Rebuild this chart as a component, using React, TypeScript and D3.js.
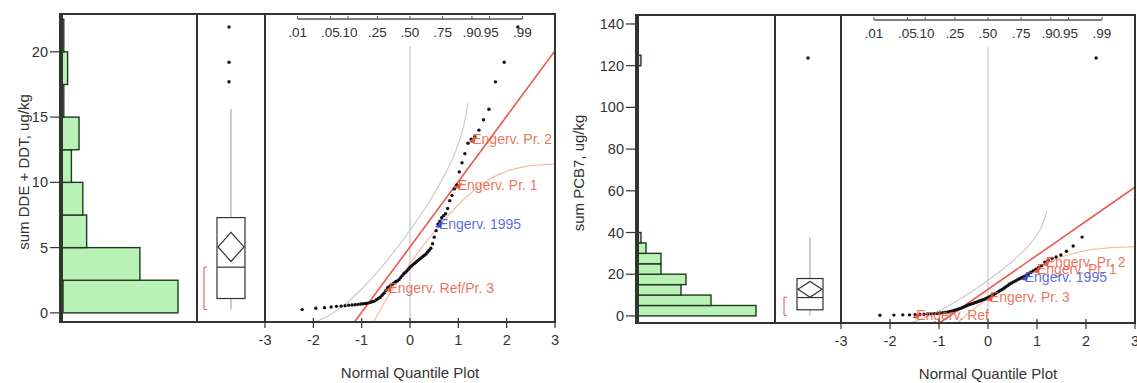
import React from 'react';
import * as d3 from 'd3';

// sum DDE + DDT, ug/kg (sorted)
const ddtValues = [
  0.25, 0.35, 0.4, 0.45, 0.5, 0.52, 0.55, 0.58, 0.6, 0.62, 0.65, 0.68, 0.7, 0.72, 0.75, 0.8, 0.85, 0.9,
  1.0, 1.1, 1.2, 1.35, 1.5, 1.7, 1.9, 2.0, 2.1, 2.2, 2.3, 2.4, 2.45,
  2.55, 2.7, 2.85, 3.0, 3.1, 3.2, 3.35, 3.5, 3.6, 3.7, 3.8, 3.9, 4.0, 4.1, 4.2, 4.3, 4.4, 4.5, 4.65, 4.8, 4.95,
  5.3, 5.8, 6.3, 6.8, 7.0, 7.3, 7.45,
  7.6, 8.0, 8.6, 9.0, 9.5, 9.8,
  10.8, 11.5, 12.2,
  13.0, 13.3, 13.5, 14.0, 14.8,
  15.6, 17.7, 19.2, 21.9,
];
const ddtTicks = [0, 5, 10, 15, 20];
const ddtMarked = [1, 0, 0, 0, 0, 0, 0, 0, 0];
const ddtNotes = [
  { text: 'Engerv. Pr. 2', value: 13.3, color: '#ea5a40' },
  { text: 'Engerv. Pr. 1', value: 9.8, color: '#ea5a40' },
  { text: 'Engerv. 1995', value: 6.8, color: '#3a50d8' },
  { text: 'Engerv. Ref/Pr. 3', value: 1.9, color: '#ea5a40' },
];

// sum PCB7, ug/kg (sorted)
const pcbValues = [
  0.3, 0.4, 0.5, 0.5, 0.6, 0.7, 0.8, 0.9, 1.0, 1.1, 1.2, 1.4, 1.5, 1.7, 1.9, 2.1, 2.4, 2.7, 3.0, 3.3, 3.6, 4.0, 4.4, 4.8,
  5.2, 5.5, 5.8, 6.1, 6.4, 6.7, 7.0, 7.3, 7.6, 7.9, 8.2, 8.6, 9.0, 9.4, 9.8,
  10.3, 10.8, 11.3, 11.8, 12.3, 12.8, 13.4, 14.0, 14.6,
  15.3, 15.8, 16.3, 16.8, 17.3, 17.8, 18.3, 18.8, 19.3, 19.8,
  20.8, 21.6, 22.4, 23.2, 24.1,
  25.8, 26.7, 27.6, 28.3, 29.2,
  31.0, 33.5,
  37.8,
  123.7,
];
const pcbTicks = [0, 20, 40, 60, 80, 100, 120, 140];
const pcbMarked: number[] = [];
const pcbNotes = [
  { text: 'Engerv. Pr. 2', value: 25.8, color: '#ea5a40' },
  { text: 'Engerv. Pr. 1', value: 22.4, color: '#ea5a40' },
  { text: 'Engerv. 1995', value: 18.8, color: '#3a50d8' },
  { text: 'Engerv. Pr. 3', value: 9.0, color: '#ea5a40' },
  { text: 'Engerv. Ref', value: 0.6, color: '#ea5a40' },
];

const probTicks = [0.01, 0.05, 0.1, 0.25, 0.5, 0.75, 0.9, 0.95, 0.99];
const probLabels = ['.01', '.05', '.10', '.25', '.50', '.75', '.90', '.95', '.99'];
const normalTicks = [-3, -2, -1, 0, 1, 2, 3];

const FONT = '"Liberation Sans", Arial, sans-serif';

// inverse normal cdf (Acklam)
function qnorm(p: number): number {
  const a = [-39.69683028665376, 220.9460984245205, -275.9285104469687, 138.357751867269, -30.66479806614716, 2.506628277459239];
  const b = [-54.47609879822406, 161.5858368580409, -155.6989798598866, 66.80131188771972, -13.28068155288572];
  const c = [-0.007784894002430293, -0.3223964580411365, -2.400758277161838, -2.549732539343734, 4.374664141464968, 2.938163982698783];
  const d = [0.007784695709041462, 0.3224671290700398, 2.445134137142996, 3.754408661907416];
  const pl = 0.02425;
  if (p < pl) {
    const q = Math.sqrt(-2 * Math.log(p));
    return (((((c[0] * q + c[1]) * q + c[2]) * q + c[3]) * q + c[4]) * q + c[5]) / ((((d[0] * q + d[1]) * q + d[2]) * q + d[3]) * q + 1);
  }
  if (p > 1 - pl) {
    const q = Math.sqrt(-2 * Math.log(1 - p));
    return -(((((c[0] * q + c[1]) * q + c[2]) * q + c[3]) * q + c[4]) * q + c[5]) / ((((d[0] * q + d[1]) * q + d[2]) * q + d[3]) * q + 1);
  }
  const q = p - 0.5, r = q * q;
  return (((((a[0] * r + a[1]) * r + a[2]) * r + a[3]) * r + a[4]) * r + a[5]) * q / (((((b[0] * r + b[1]) * r + b[2]) * r + b[3]) * r + b[4]) * r + 1);
}

function pnorm(z: number): number {
  const x = Math.abs(z) / Math.SQRT2;
  const t = 1 / (1 + 0.3275911 * x);
  const y = 1 - (((((1.061405429 * t - 1.453152027) * t) + 1.421413741) * t - 0.284496736) * t + 0.254829592) * t * Math.exp(-x * x);
  return z >= 0 ? 0.5 * (1 + y) : 0.5 * (1 - y);
}

type Layout = {
  id: string;
  left: number; histRight: number; boxRight: number; right: number;
  top: number; bottom: number;
  yDomain: [number, number];
  countMax: number;
  binStep: number;
  boxX: number; boxW: number; halfX: number;
  titleX: number; title: string;
};

type Note = { text: string; value: number; color: string };

function Panel({ values, ticks, marked, notes, L }: { values: number[]; ticks: number[]; marked: number[]; notes: Note[]; L: Layout }) {
  const data = [...values].sort(d3.ascending);
  const n = data.length;
  const y = d3.scaleLinear().domain(L.yDomain).range([L.bottom, L.top]);
  const cx = d3.scaleLinear().domain([0, L.countMax]).range([L.left, L.histRight]);
  const qx = d3.scaleLinear().domain([-3, 3]).range([L.boxRight, L.right]);

  const bins = d3.bin().domain([0, L.yDomain[1]]).thresholds(d3.range(0, L.yDomain[1], L.binStep))(data);

  const q1 = d3.quantile(data, 0.25)!;
  const med = d3.quantile(data, 0.5)!;
  const q3 = d3.quantile(data, 0.75)!;
  const iqr = q3 - q1;
  const upper = d3.max(data.filter(v => v <= q3 + 1.5 * iqr))!;
  const lower = d3.min(data.filter(v => v >= q1 - 1.5 * iqr))!;
  const outliers = data.filter(v => v > upper || v < lower);
  const mean = d3.mean(data)!;
  const sd = d3.deviation(data)!;
  const ci = 1.96 * sd / Math.sqrt(n);

  // shortest half
  const h = Math.floor(n / 2);
  let best = [data[0], data[h]];
  for (let i = 0; i + h < n; i++) if (data[i + h] - data[i] < best[1] - best[0]) best = [data[i], data[i + h]];

  const pts = data.map((v, i) => ({ v, q: qnorm((i + 1) / (n + 1)) }));

  // Lilliefors bands, evaluated along the quantile axis
  const dcrit = 0.886 / Math.sqrt(n);
  const qgrid = d3.range(-3, 3.001, 0.1);
  const band = (sign: number) => qgrid.map(q => {
    const p = pnorm(q) + sign * dcrit;
    return p > 0 && p < 1 ? [qx(q), y(mean + sd * qnorm(p))] as [number, number] : null;
  });
  const bandLine = d3.line<[number, number] | null>().defined(d => d !== null).x(d => d![0]).y(d => d![1]).curve(d3.curveCatmullRom);
  const fitLine = d3.line<number>().x(q => qx(q)).y(q => y(mean + sd * q));

  const clipId = `clip-${L.id}`;
  const probY = L.top + 5;

  return (
    <g fontFamily={FONT}>
      <defs>
        <clipPath id={clipId}>
          <rect x={L.boxRight} y={L.top} width={L.right - L.boxRight} height={L.bottom - L.top} />
        </clipPath>
      </defs>

      {/* histogram */}
      {bins.map((b, i) => b.length > 0 ? (
        <g key={i}>
          <rect x={cx(0)} y={y(b.x1!)} width={cx(b.length) - cx(0)} height={y(b.x0!) - y(b.x1!)}
            fill="#b9f2b6" stroke="#1e3a1e" strokeWidth={1.4} />
          {marked[i] ? <rect x={cx(0)} y={y(b.x1!)} width={cx(marked[i]) - cx(0)} height={y(b.x0!) - y(b.x1!)} fill="#1f5a1f" /> : null}
        </g>
      ) : null)}

      {/* y axis */}
      {ticks.map(t => (
        <g key={t}>
          <line x1={L.left - 10} x2={L.left} y1={y(t)} y2={y(t)} stroke="#333" strokeWidth={1.2} />
          <text x={L.left - 12} y={y(t)} dy="0.35em" textAnchor="end" fontSize={14.5} fill="#333">{t}</text>
        </g>
      ))}
      <text transform={`translate(${L.titleX},${(L.top + L.bottom) / 2 + 4}) rotate(-90)`} textAnchor="middle" fontSize={15} fill="#333">{L.title}</text>

      {/* box plot */}
      <g>
        <line x1={L.boxX} x2={L.boxX} y1={y(q3)} y2={y(upper)} stroke="#999" strokeWidth={1} />
        <line x1={L.boxX} x2={L.boxX} y1={y(q1)} y2={y(lower)} stroke="#999" strokeWidth={1} />
        <rect x={L.boxX - L.boxW / 2} y={y(q3)} width={L.boxW} height={y(q1) - y(q3)} fill="white" stroke="#333" strokeWidth={1.2} />
        <line x1={L.boxX - L.boxW / 2} x2={L.boxX + L.boxW / 2} y1={y(med)} y2={y(med)} stroke="#333" strokeWidth={1.2} />
        <path d={`M${L.boxX - L.boxW / 2 + 1},${y(mean)}L${L.boxX},${y(mean + ci)}L${L.boxX + L.boxW / 2 - 1},${y(mean)}L${L.boxX},${y(mean - ci)}Z`}
          fill="none" stroke="#333" strokeWidth={1.2} />
        {outliers.map((v, i) => <circle key={i} cx={L.boxX - 2} cy={y(v)} r={1.8} fill="#222" />)}
        <path d={`M${L.halfX + 3},${y(best[1])}H${L.halfX}V${y(best[0])}H${L.halfX + 3}`} fill="none" stroke="#e05050" strokeWidth={1} />
      </g>

      {/* normal quantile plot */}
      <g clipPath={`url(#${clipId})`}>
        <line x1={qx(0)} x2={qx(0)} y1={L.top + 32} y2={L.bottom} stroke="#bbb" strokeWidth={1} />
        <path d={bandLine(band(1))!} fill="none" stroke="#cfcaca" strokeWidth={1.2} />
        <path d={bandLine(band(-1))!} fill="none" stroke="#f4bca8" strokeWidth={1.2} />
        <path d={fitLine([-3, 3])!} fill="none" stroke="#ea5a48" strokeWidth={1.6} />
        {pts.map((p, i) => <circle key={i} cx={qx(p.q)} cy={y(p.v)} r={1.7} fill="#111" />)}
        {notes.map((nt, i) => {
          const p = pts.reduce((a, b) => Math.abs(b.v - nt.value) < Math.abs(a.v - nt.value) ? b : a);
          const px = qx(p.q), py = y(p.v);
          return (
            <g key={i}>
              <path d={`M${px - 3},${py + 3}L${px + 5},${py - 3}L${px + 3},${py + 4}Z`} fill={nt.color} />
              <text x={px + 1} y={py} dy="0.35em" fontSize={14} fill={nt.color} fillOpacity={0.85}>{nt.text}</text>
            </g>
          );
        })}
      </g>

      {/* probability axis */}
      <line x1={qx(qnorm(probTicks[0]))} x2={qx(qnorm(probTicks[probTicks.length - 1]))} y1={probY} y2={probY} stroke="#555" strokeWidth={1.6} />
      {probTicks.map((p, i) => (
        <g key={p}>
          <line x1={qx(qnorm(p))} x2={qx(qnorm(p))} y1={probY} y2={probY - 3} stroke="#555" strokeWidth={1} />
          <text x={qx(qnorm(p))} y={probY + 18} textAnchor="middle" fontSize={13.5} fill="#333">{probLabels[i]}</text>
        </g>
      ))}

      {/* frame */}
      <rect x={L.left} y={L.top} width={L.right - L.left} height={L.bottom - L.top} fill="none" stroke="#333" strokeWidth={2} />
      <line x1={L.left + 1} x2={L.left + 1} y1={L.top} y2={L.bottom} stroke="#333" strokeWidth={4} />
      <line x1={L.histRight} x2={L.histRight} y1={L.top} y2={L.bottom} stroke="#333" strokeWidth={2} />
      <line x1={L.boxRight} x2={L.boxRight} y1={L.top} y2={L.bottom} stroke="#333" strokeWidth={2} />

      {/* quantile axis */}
      {normalTicks.map(t => (
        <g key={t}>
          <line x1={qx(t)} x2={qx(t)} y1={L.bottom - 4} y2={L.bottom + 6} stroke="#333" strokeWidth={1.2} />
          <text x={qx(t)} y={L.bottom + 23} textAnchor="middle" fontSize={14.5} fill="#333">{t < 0 ? `-${-t}` : t}</text>
        </g>
      ))}
      <text x={qx(0)} y={L.bottom + 56} textAnchor="middle" fontSize={15} fill="#333">Normal Quantile Plot</text>
    </g>
  );
}

const ddtLayout: Layout = {
  id: 'ddt', left: 60, histRight: 197, boxRight: 265, right: 555, top: 14, bottom: 322,
  yDomain: [-0.7, 22.9], countMax: 36, binStep: 2.5,
  boxX: 231, boxW: 28, halfX: 204, titleX: 29, title: 'sum DDE + DDT, ug/kg',
};
const pcbLayout: Layout = {
  id: 'pcb', left: 636, histRight: 775, boxRight: 841, right: 1135, top: 15, bottom: 323,
  yDomain: [-3.4, 144.3], countMax: 27.8, binStep: 5,
  boxX: 810, boxW: 26, halfX: 784, titleX: 584, title: 'sum PCB7, ug/kg',
};

export default function App() {
  return (
    <svg width={1137} height={383} style={{ position: 'absolute', left: 0, top: 0, background: 'white' }}>
      <rect width={1137} height={383} fill="white" />
      <Panel values={ddtValues} ticks={ddtTicks} marked={ddtMarked} notes={ddtNotes} L={ddtLayout} />
      <Panel values={pcbValues} ticks={pcbTicks} marked={pcbMarked} notes={pcbNotes} L={pcbLayout} />
    </svg>
  );
}
